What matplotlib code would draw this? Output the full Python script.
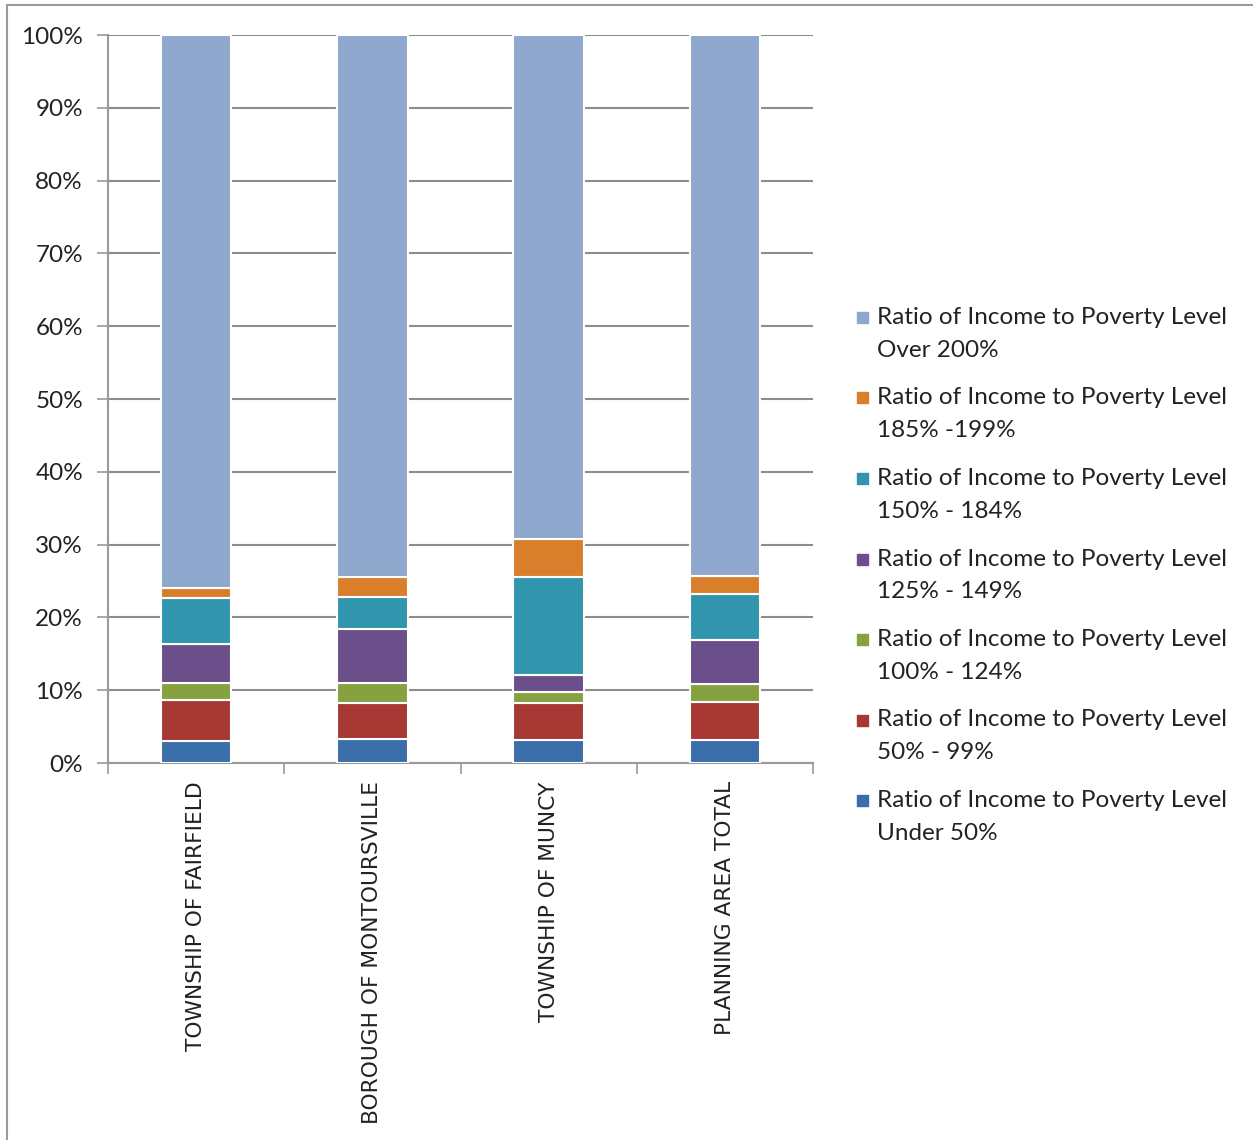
import numpy as np
import matplotlib.pyplot as plt
from matplotlib.lines import Line2D
from matplotlib.patches import Rectangle

categories = ["TOWNSHIP OF FAIRFIELD", "BOROUGH OF MONTOURSVILLE",
              "TOWNSHIP OF MUNCY", "PLANNING AREA TOTAL"]

# shares in percent, bottom to top
under_50 = [3.0, 3.3, 3.1, 3.2]
pct_50_99 = [5.6, 4.9, 5.1, 5.2]
pct_100_124 = [2.4, 2.8, 1.5, 2.4]
pct_125_149 = [5.3, 7.4, 2.4, 6.1]
pct_150_184 = [6.4, 4.4, 13.4, 6.3]
pct_185_199 = [1.3, 2.7, 5.3, 2.5]
over_200 = [76.0, 74.5, 69.2, 74.3]

series = [under_50, pct_50_99, pct_100_124, pct_125_149, pct_150_184, pct_185_199, over_200]
labels = ["Ratio of Income to Poverty Level\nUnder 50%",
          "Ratio of Income to Poverty Level\n50% - 99%",
          "Ratio of Income to Poverty Level\n100% - 124%",
          "Ratio of Income to Poverty Level\n125% - 149%",
          "Ratio of Income to Poverty Level\n150% - 184%",
          "Ratio of Income to Poverty Level\n185% -199%",
          "Ratio of Income to Poverty Level\nOver 200%"]
colors = ["#3a6ea8", "#a83834", "#86a240", "#6a4f8a", "#3196ad", "#d97f2c", "#8ea8cd"]

plt.rcParams['font.family'] = ['Lato', 'DejaVu Sans']

fig = plt.figure(figsize=(12.53, 11.4), dpi=100)
W, H = 1253, 1140
ax = fig.add_axes([108 / W, 1 - 763 / H, 705 / W, 728 / H])

x = np.arange(len(categories))
bottom = np.zeros(len(categories))
for vals, lab, col in zip(series, labels, colors):
    ax.bar(x, vals, bottom=bottom, width=0.4, color=col, edgecolor="white",
           linewidth=1.5, label=lab, zorder=3)
    bottom += np.array(vals)

ax.set_xlim(-0.5, len(categories) - 0.5)
ax.set_ylim(0, 100)
ax.set_yticks(np.arange(0, 101, 10))
ax.set_yticklabels([f"{t}%" for t in range(0, 101, 10)], fontsize=17.5, color="#222222")
ax.yaxis.grid(True, color="#8c8c8c", linewidth=1.5, zorder=0)

ax.set_xticks(np.arange(-0.5, len(categories), 1.0))
ax.set_xticklabels([])
ax.tick_params(axis="x", length=8, width=1.2, color="#9a9a9a")
ax.tick_params(axis="y", length=8, width=1.2, color="#9a9a9a", pad=10)
for i, c in enumerate(categories):
    ax.text(i, -2.5, c, rotation=90, ha="center", va="top", fontsize=15.7,
            color="#222222", family=['Liberation Sans Narrow', 'DejaVu Sans'])

for s in ["top", "right"]:
    ax.spines[s].set_visible(False)
for s in ["left", "bottom"]:
    ax.spines[s].set_color("#9a9a9a")
    ax.spines[s].set_linewidth(1.5)

# legend drawn by hand: square beside the first line, generous line spacing
for k, (lab, col) in enumerate(zip(labels[::-1], colors[::-1])):
    yc = 316 + k * 80.5
    fig.add_artist(Rectangle((857 / W, 1 - (yc + 7) / H), 11 / W, 11 / H,
                             transform=fig.transFigure, color=col))
    fig.text(877 / W, 1 - (yc - 9) / H, lab, ha="left", va="top", fontsize=17.5,
             color="#222222", linespacing=1.7)

# outer frame: top and left edges only
fig.add_artist(Line2D([7 / W, 1], [1 - 5 / H, 1 - 5 / H], transform=fig.transFigure,
                      color="#9a9a9a", linewidth=1.5))
fig.add_artist(Line2D([7 / W, 7 / W], [0, 1 - 5 / H], transform=fig.transFigure,
                      color="#9a9a9a", linewidth=1.5))

fig.savefig("out.png", dpi=100)
